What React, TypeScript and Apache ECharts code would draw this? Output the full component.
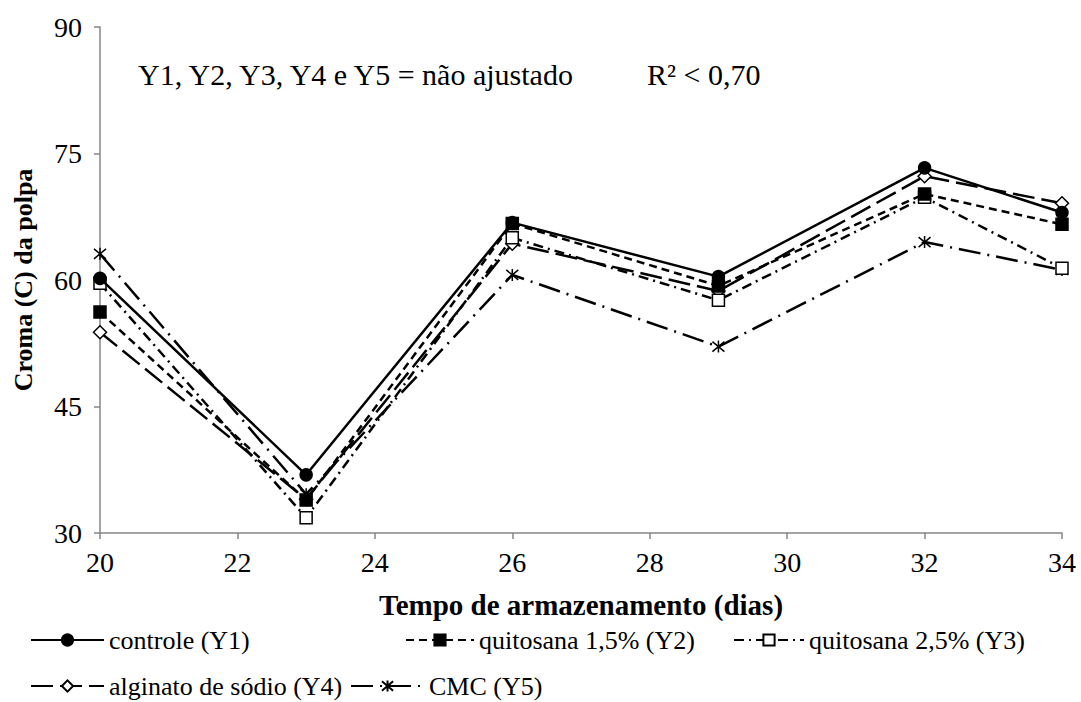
import React, { useEffect, useRef } from "react";
import * as echarts from "echarts";

// Storage time (days) and pulp chroma for each coating treatment
const days = [20, 23, 26, 29, 32, 34];
const controle = [60.2, 36.9, 66.8, 60.4, 73.3, 68.0];
const quitosana15 = [56.2, 33.9, 66.7, 59.3, 70.2, 66.6];
const quitosana25 = [59.6, 31.8, 65.0, 57.6, 69.8, 61.4];
const alginato = [53.8, 34.0, 64.3, 58.7, 72.3, 69.1];
const cmc = [63.1, 34.6, 60.6, 52.1, 64.5, 61.2];

const yTicks = { min: 30, max: 90, interval: 15 };
const xTicks = { min: 20, max: 34, interval: 2 };

const FONT = "Liberation Serif";
const ASTERISK = "path://M0,0L10,10M0,10L10,0M5,-1L5,11";

const pairs = (vals: number[]) => days.map((d, i) => [d, vals[i]]);

export default function App() {
  const ref = useRef<HTMLDivElement>(null);

  useEffect(() => {
    if (!ref.current) return;
    const chart = echarts.init(ref.current, null, { renderer: "svg" });

    const line = (
      name: string,
      vals: number[],
      dash: number[] | "solid",
      symbol: string,
      size: number,
      fill: string,
      z: number
    ) => ({
      name,
      type: "line",
      data: pairs(vals),
      symbol,
      symbolSize: size,
      showSymbol: true,
      z,
      lineStyle: { color: "#000", width: 2.5, type: dash },
      itemStyle: { color: fill, borderColor: "#000", borderWidth: 1.5 },
    });

    const legendText = { fontFamily: FONT, fontSize: 26, color: "#000" };
    const legendAt = (name: string, left: number, top: number, width: number) => ({
      data: [name],
      left,
      top,
      padding: 0,
      itemWidth: width,
      itemHeight: 14,
      textStyle: legendText,
      selectedMode: false,
    });

    chart.setOption({
      animation: false,
      backgroundColor: "#fff",
      textStyle: { fontFamily: FONT },
      grid: { left: 100, right: 19, top: 27, bottom: 169, containLabel: false },
      xAxis: {
        type: "value",
        min: xTicks.min,
        max: xTicks.max,
        interval: xTicks.interval,
        name: "Tempo de armazenamento (dias)",
        nameLocation: "middle",
        nameGap: 57,
        nameTextStyle: { fontFamily: FONT, fontSize: 29, fontWeight: "bold", color: "#000" },
        axisLine: { show: true, lineStyle: { color: "#868686", width: 1.5 } },
        axisTick: { show: true, length: 6, lineStyle: { color: "#868686", width: 1.5 } },
        axisLabel: { fontFamily: FONT, fontSize: 28, color: "#000", margin: 15 },
        splitLine: { show: false },
      },
      yAxis: {
        type: "value",
        min: yTicks.min,
        max: yTicks.max,
        interval: yTicks.interval,
        name: "Croma (C) da polpa",
        nameLocation: "middle",
        nameGap: 64,
        nameTextStyle: { fontFamily: FONT, fontSize: 26, fontWeight: "bold", color: "#000" },
        axisLine: { show: true, lineStyle: { color: "#868686", width: 1.5 } },
        axisTick: { show: true, length: 6, lineStyle: { color: "#868686", width: 1.5 } },
        axisLabel: { fontFamily: FONT, fontSize: 28, color: "#000", margin: 18 },
        splitLine: { show: false },
      },
      legend: [
        legendAt("controle (Y1)", 30, 627, 73),
        legendAt("quitosana 1,5% (Y2)", 405, 627, 68),
        legendAt("quitosana 2,5% (Y3)", 733, 627, 70),
        legendAt("alginato de sódio (Y4)", 30, 673, 73),
        legendAt("CMC (Y5)", 350, 673, 73),
      ],
      graphic: [
        {
          type: "text",
          left: 138,
          top: 59,
          style: {
            text: "Y1, Y2, Y3, Y4 e Y5 = não ajustado",
            fontFamily: FONT,
            fontSize: 30,
            fill: "#000",
          },
        },
        {
          type: "text",
          left: 647,
          top: 59,
          style: { text: "R² < 0,70", fontFamily: FONT, fontSize: 30, fill: "#000" },
        },
      ],
      series: [
        line("controle (Y1)", controle, "solid", "circle", 12, "#000", 5),
        line("quitosana 1,5% (Y2)", quitosana15, [8, 5], "rect", 12, "#000", 4),
        line("quitosana 2,5% (Y3)", quitosana25, [10, 5, 2, 5], "rect", 12, "#fff", 3),
        line("alginato de sódio (Y4)", alginato, [22, 7], "diamond", 13, "#fff", 2),
        line("CMC (Y5)", cmc, [22, 7, 2, 7], ASTERISK, 12, "transparent", 1),
      ],
    });

    return () => chart.dispose();
  }, []);

  return (
    <div
      ref={ref}
      style={{ position: "fixed", left: 0, top: 0, width: 1081, height: 702 }}
    />
  );
}
